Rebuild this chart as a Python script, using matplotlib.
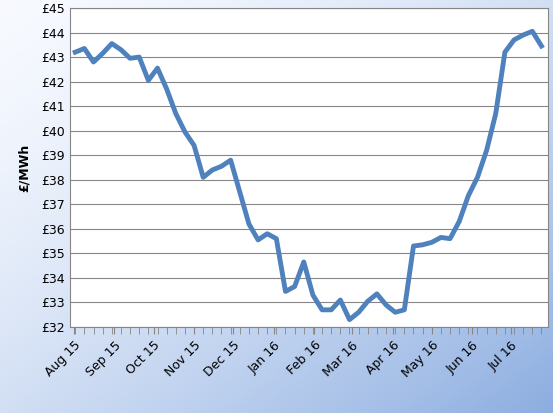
import numpy as np
import pandas as pd
import matplotlib
matplotlib.use("Agg")
import matplotlib.pyplot as plt

prices = [43.2, 43.35, 42.8, 43.15, 43.55, 43.3, 42.95, 43.0, 42.05, 42.55,
          41.7, 40.7, 39.95, 39.4, 38.1, 38.4, 38.55, 38.8, 37.5, 36.2,
          35.55, 35.8, 35.6, 33.45, 33.65, 34.65, 33.3, 32.7, 32.7, 33.1,
          32.3, 32.6, 33.05, 33.35, 32.9, 32.6, 32.7, 35.3, 35.35, 35.45,
          35.65, 35.6, 36.3, 37.35, 38.1, 39.2, 40.7, 43.2, 43.7, 43.9,
          44.05, 43.45]
dates = pd.date_range("2015-08-02", periods=len(prices), freq="7D")
month_ticks = pd.date_range("2015-08-01", "2016-07-01", freq="MS")
month_labels = [d.strftime("%b %y") for d in month_ticks]

fig = plt.figure(figsize=(5.53, 4.13), dpi=100)
# gradient background
bg = fig.add_axes([0, 0, 1, 1], zorder=-1)
xx, yy = np.meshgrid(np.linspace(0, 1, 200), np.linspace(0, 1, 200))
t = np.clip((xx + yy) / 2, 0, 1) ** 1.5
c0 = np.array([0.97, 0.98, 1.0])
c1 = np.array([0.55, 0.68, 0.88])
img = c0 + (c1 - c0) * t[..., None]
bg.imshow(img, extent=[0, 1, 0, 1], aspect="auto", origin="upper")
bg.axis("off")

ax = fig.add_axes([70 / 553, 1 - 327 / 413, 478 / 553, 319 / 413])
ax.set_facecolor("white")
ax.plot(dates, prices, color="#4f81bd", lw=3.5, solid_joinstyle="round")
ax.set_ylim(32, 45)
ax.set_yticks(range(32, 46))
ax.set_yticklabels([f"£{v}" for v in range(32, 46)], fontsize=9)
ax.grid(axis="y", color="#868686", lw=0.8)
ax.set_xlim(dates[0] - pd.Timedelta(days=4), dates[-1] + pd.Timedelta(days=5))
ax.set_xticks(month_ticks)
ax.set_xticklabels(month_labels, rotation=45, ha="right", rotation_mode="anchor", fontsize=9)
ax.set_xticks(dates, minor=True)
ax.tick_params(axis="x", which="both", length=5, color="#868686")
ax.tick_params(axis="y", length=0)
for s in ax.spines.values():
    s.set_color("#868686")
ax.set_ylabel("£/MWh", fontsize=9, fontweight="bold", labelpad=8)
fig.savefig("out.png", dpi=100)
